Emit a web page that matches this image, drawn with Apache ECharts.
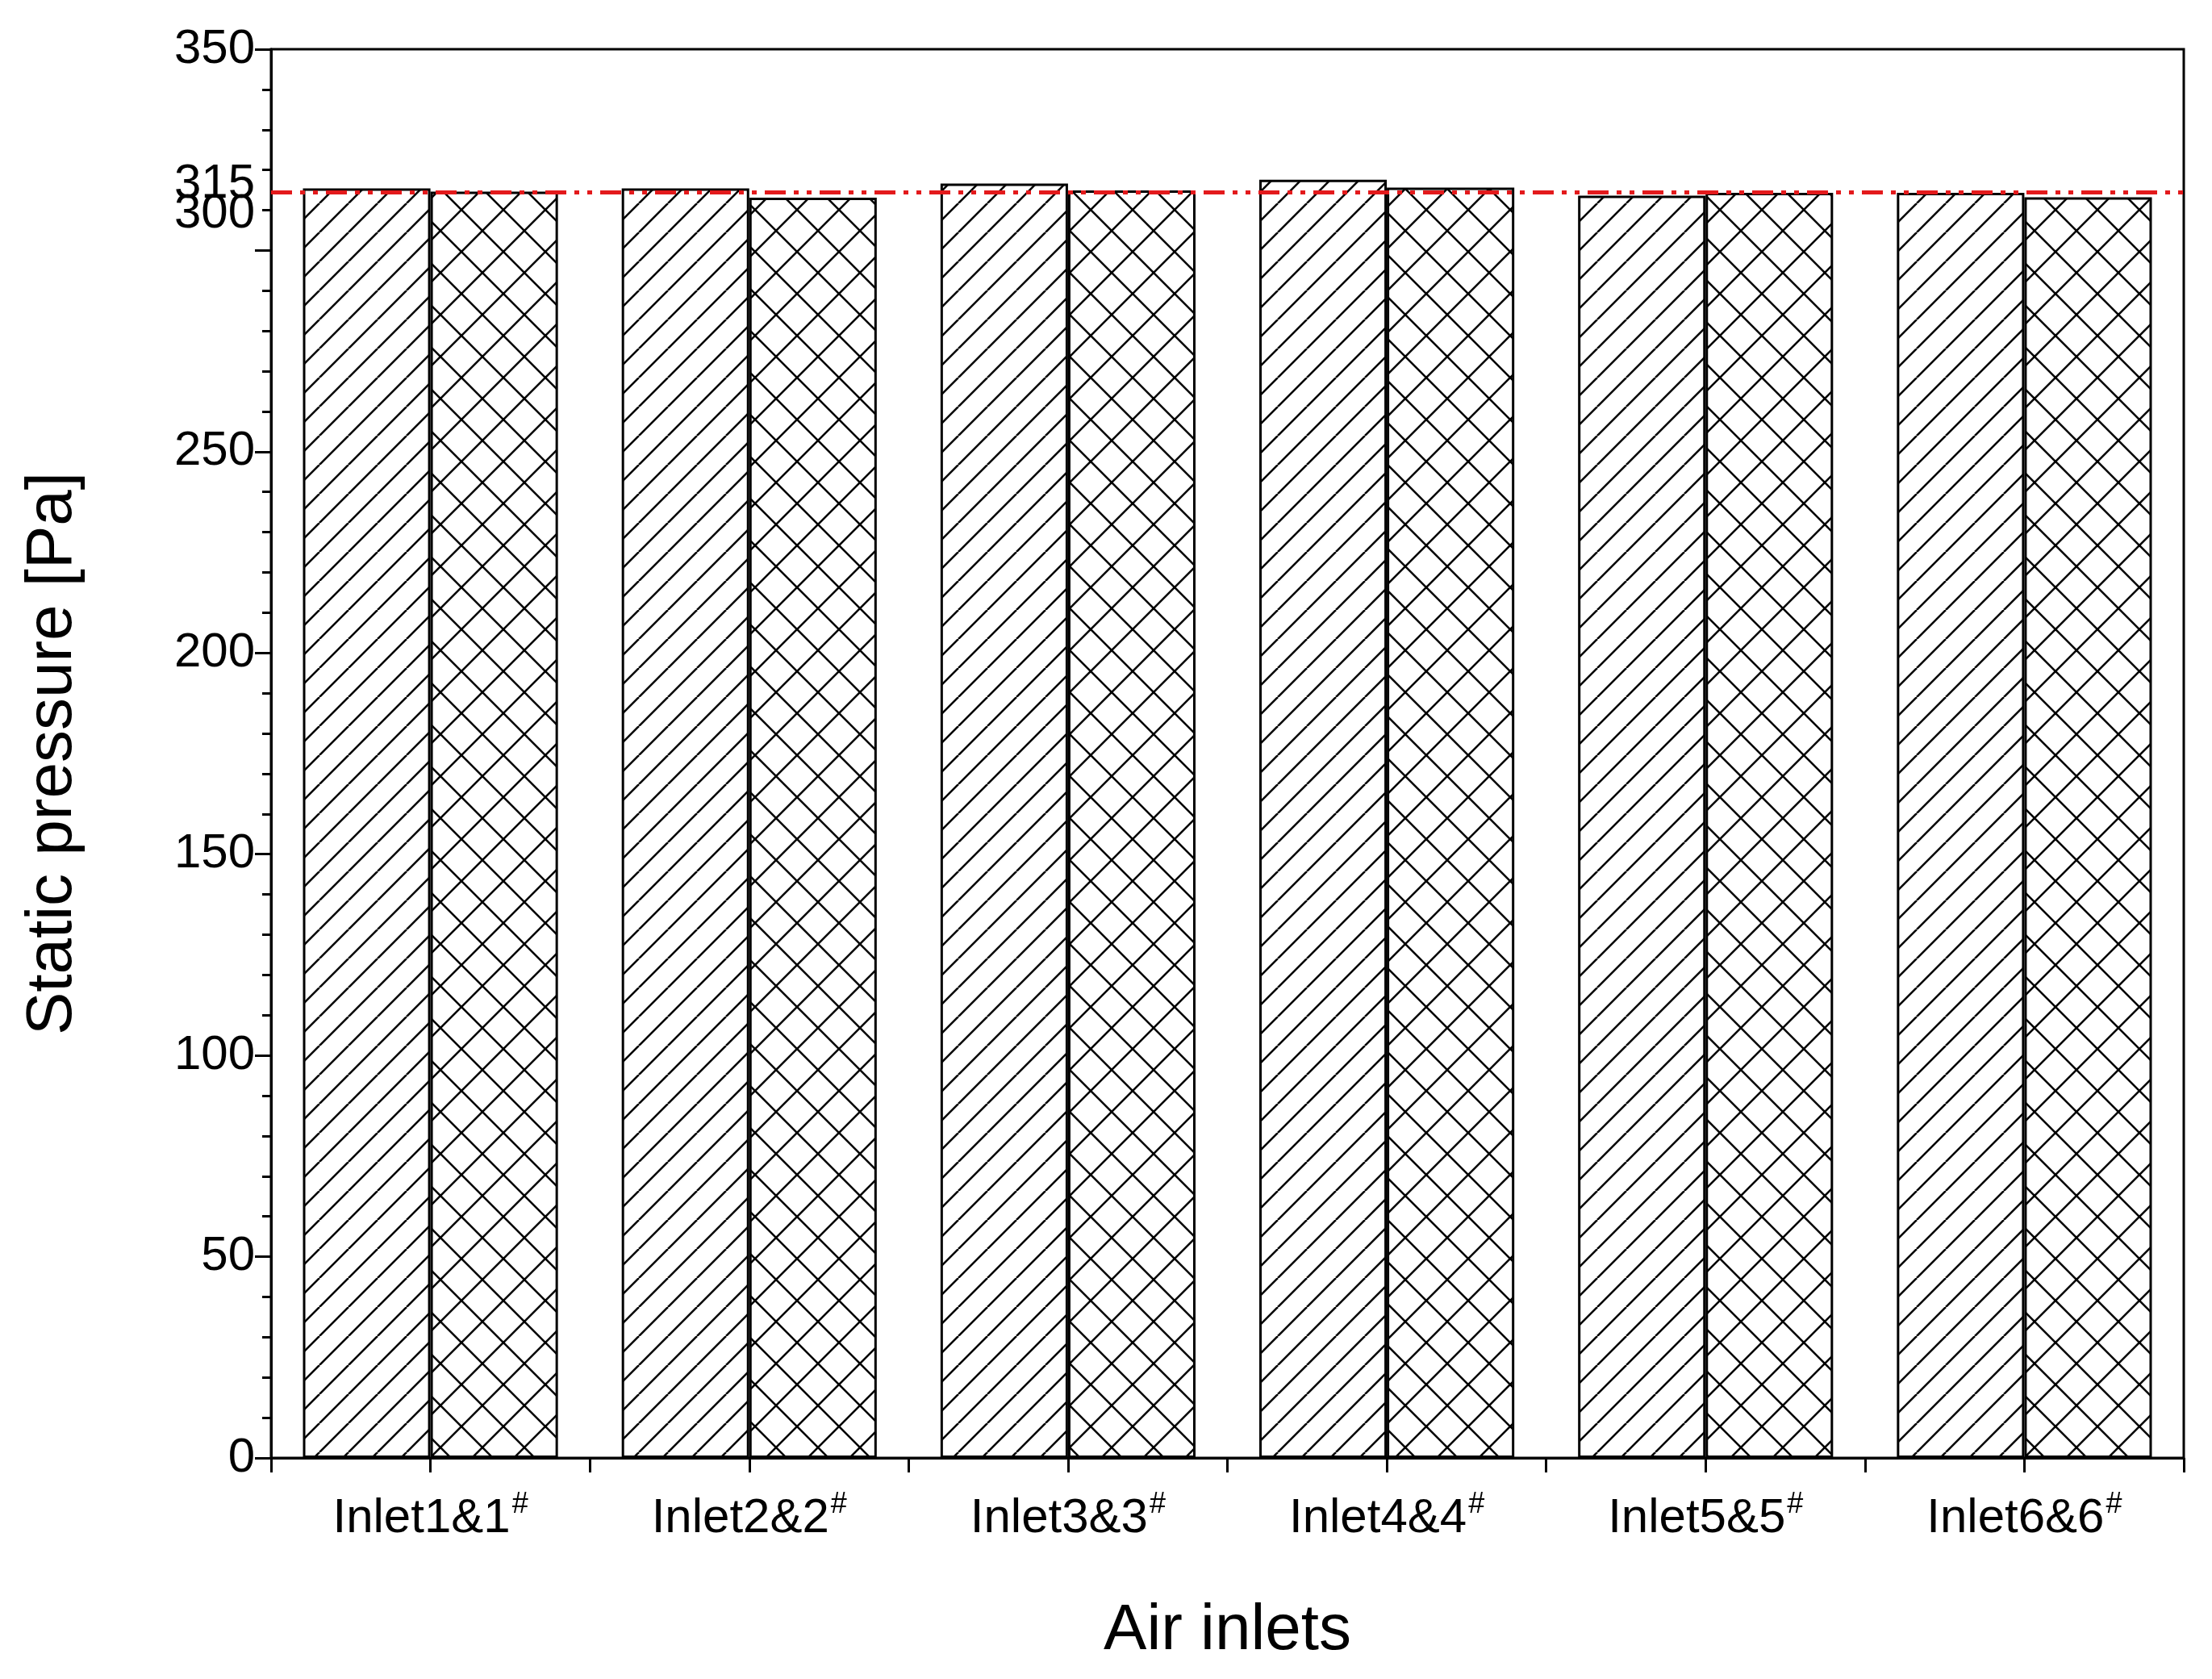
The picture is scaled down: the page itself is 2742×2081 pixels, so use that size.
<!DOCTYPE html>
<html><head><meta charset="utf-8">
<script src="https://cdn.jsdelivr.net/npm/echarts@6/dist/echarts.min.js"></script>
<style>html,body{margin:0;padding:0;background:#fff}#c{width:2742px;height:2081px}</style>
</head><body><div id="c"></div>
<script>
const categories = ['1', '2', '3', '4', '5', '6'];
const seriesA = [315.4, 315.4, 316.6, 317.6, 313.6, 314.3];
const seriesB = [314.6, 313.1, 314.9, 315.6, 314.3, 313.2];
const refValue = 314.5;
const yTicks = [0, 50, 100, 150, 200, 250, 300, 350];

function pat(cross) {
  const s = cross ? 52 : 36;
  const c = document.createElement('canvas'); c.width = s; c.height = s;
  const g = c.getContext('2d'); g.fillStyle = '#fff'; g.fillRect(0,0,s,s);
  g.strokeStyle = '#000'; g.lineWidth = 2.6;
  g.beginPath();
  for (const o of [-s, 0, s]) { g.moveTo(o, s); g.lineTo(o + s, 0); }
  if (cross) for (const o of [-s, 0, s]) { g.moveTo(o, 0); g.lineTo(o + s, s); }
  g.stroke();
  return {image: c, repeat: 'repeat'};
}
const ch = echarts.init(document.getElementById('c'));
const font = 'Liberation Sans, Arial, sans-serif';
ch.setOption({
  animation: false,
  grid: {left: 336, right: 35, top: 61, bottom: 274, show: true, borderColor: '#000', borderWidth: 3},
  xAxis: [{
    type: 'category', data: categories, name: 'Air inlets', nameLocation: 'middle', nameGap: 175,
    nameTextStyle: {fontFamily: font, fontSize: 80, color: '#000'},
    axisLine: {lineStyle: {color: '#000', width: 3}},
    axisTick: {show: true, interval: 0, length: 18, lineStyle: {width: 3, color: '#000'}},
    axisLabel: {interval: 0, margin: 40, fontFamily: font, color: '#000', fontSize: 60,
      formatter: v => '{n|Inlet' + v + '&' + v + '}{s|#}',
      rich: {n: {fontFamily: font, fontSize: 60, color: '#000'}, s: {fontFamily: font, fontSize: 36, color: '#000', verticalAlign: 'top', padding: [0,0,34,2]}}}
  }, {
    type: 'category', data: categories, position: 'bottom',
    axisLine: {show: false}, axisLabel: {show: false},
    axisTick: {show: true, interval: 0, alignWithLabel: true, length: 18, lineStyle: {width: 3, color: '#000'}}
  }],
  yAxis: {
    type: 'value', min: 0, max: 350, interval: 50,
    name: 'Static pressure [Pa]', nameLocation: 'middle', nameGap: 230,
    nameTextStyle: {fontFamily: font, fontSize: 80, color: '#000'},
    axisLine: {show: true, lineStyle: {color: '#000', width: 3}},
    axisTick: {show: true, length: 20, lineStyle: {width: 3, color: '#000'}},
    minorTick: {show: true, splitNumber: 5, length: 11, lineStyle: {width: 3, color: '#000'}},
    splitLine: {show: false},
    axisLabel: {fontFamily: font, fontSize: 60, color: '#000', margin: 20,
      formatter: v => v === 300 ? '{u|300}' : (yTicks.includes(v) ? String(v) : ''),
      rich: {u: {fontFamily: font, fontSize: 60, color: '#000', padding: [0,0,90,0]}}}
  },
  series: [{
    type: 'bar', data: seriesA, barGap: '0%', barCategoryGap: '20%',
    itemStyle: {color: pat(false), borderColor: '#000', borderWidth: 3},
    markLine: {symbol: 'none', silent: true,
      lineStyle: {color: '#e31a1c', width: 5, type: [26, 10, 6, 10, 6, 10]},
      label: {show: true, position: 'start', formatter: '{t|315}', distance: 20,
        rich: {t: {fontFamily: font, fontSize: 60, color: '#000', padding: [0,0,20,0]}}},
      data: [{yAxis: refValue}]}
  }, {
    type: 'bar', data: seriesB,
    itemStyle: {color: pat(true), borderColor: '#000', borderWidth: 3}
  }]
});
</script></body></html>
